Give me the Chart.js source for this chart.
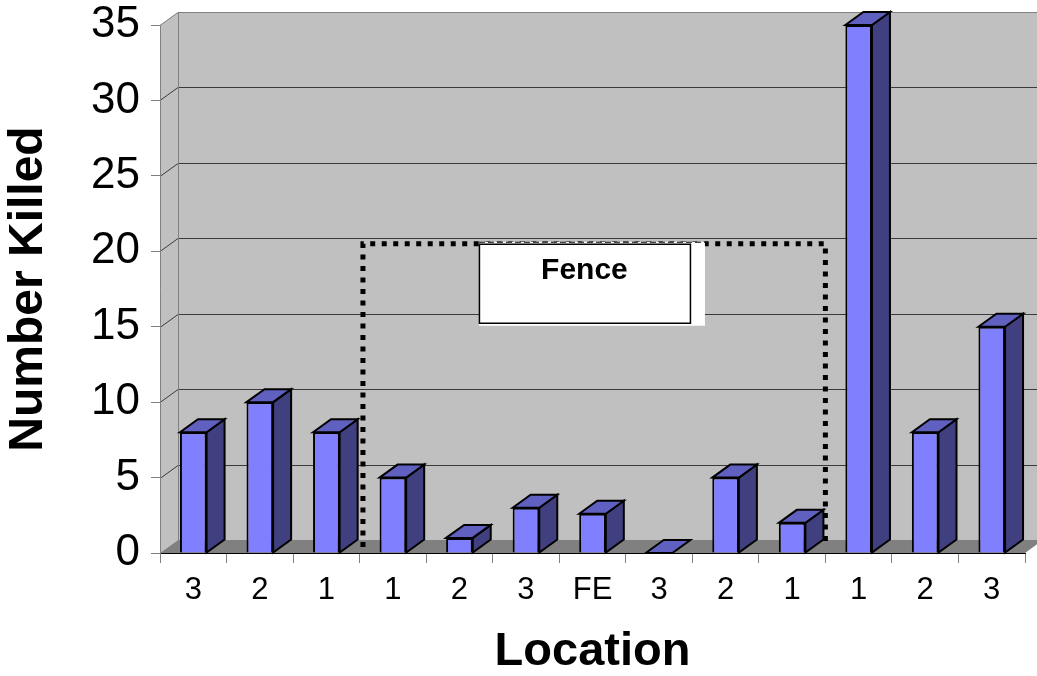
<!DOCTYPE html>
<html>
<head>
<meta charset="utf-8">
<script src="https://cdn.jsdelivr.net/npm/chart.js@4.4.0/dist/chart.umd.min.js"></script>
<style>
  html, body { margin: 0; padding: 0; background: #fff; }
  #wrap { width: 1037px; height: 676px; }
</style>
</head>
<body>
<div id="wrap"><canvas id="killChart"></canvas></div>
<script>
const locations = ['3', '2', '1', '1', '2', '3', 'FE', '3', '2', '1', '1', '2', '3'];
const numberKilled = [8, 10, 8, 5, 1, 3, 2.6, 0, 5, 2, 35, 8, 15];
const yTicks = [0, 5, 10, 15, 20, 25, 30, 35];

// fence area, in category index / value units
const fenceLabel = 'Fence';
const fenceFrom = 2.55, fenceTo = 9.5;
const fenceLow = 0.4, fenceHigh = 20.5;

// 3d depth offset
const DX = 18, DY = -13;

Chart.defaults.font.family = '"Liberation Sans", Arial, sans-serif';

function poly(ctx, pts) {
    ctx.beginPath();
    ctx.moveTo(pts[0][0], pts[0][1]);
    for (let i = 1; i < pts.length; i++) ctx.lineTo(pts[i][0], pts[i][1]);
    ctx.closePath();
}

const box3d = {
    id: 'box3d',
    beforeDraw(chart) {
        const { ctx, chartArea: a, scales: { y } } = chart;
        ctx.save();
        // back wall, left wall, floor
        ctx.fillStyle = '#c0c0c0';
        ctx.fillRect(a.left + DX, a.top + DY, a.right - a.left, a.bottom - a.top);
        poly(ctx, [[a.left, a.top], [a.left + DX, a.top + DY], [a.left + DX, a.bottom + DY], [a.left, a.bottom]]);
        ctx.fill();
        ctx.fillStyle = '#808080';
        poly(ctx, [[a.left, a.bottom], [a.left + DX, a.bottom + DY], [a.right + DX, a.bottom + DY], [a.right, a.bottom]]);
        ctx.fill();

        // gridlines running over both walls
        ctx.lineWidth = 1;
        yTicks.forEach(v => {
            if (v === 0) return;
            const py = Math.round(y.getPixelForValue(v)) + 0.5;
            ctx.strokeStyle = v === 35 ? '#808080' : '#3a3a3a';
            ctx.beginPath();
            ctx.moveTo(a.left, py);
            ctx.lineTo(a.left + DX, py + DY);
            ctx.lineTo(a.right + DX + 20, py + DY);
            ctx.stroke();
        });
        // wall corner
        ctx.strokeStyle = '#808080';
        ctx.beginPath();
        ctx.moveTo(a.left + DX + 0.5, a.top + DY);
        ctx.lineTo(a.left + DX + 0.5, a.bottom + DY);
        ctx.stroke();
        ctx.restore();
    },
    afterDatasetsDraw(chart) {
        const { ctx, scales: { x, y } } = chart;
        const meta = chart.getDatasetMeta(0);
        ctx.save();
        ctx.lineWidth = 2;
        ctx.lineJoin = 'miter';
        ctx.strokeStyle = '#000';
        meta.data.forEach(bar => {
            const p = bar.getProps(['x', 'y', 'base', 'width'], true);
            const l = p.x - p.width / 2, r = p.x + p.width / 2;
            // side face
            if (p.base - p.y > 0.5) {
                poly(ctx, [[r, p.y], [r + DX, p.y + DY], [r + DX, p.base + DY], [r, p.base]]);
                ctx.fillStyle = '#404080';
                ctx.fill();
                ctx.stroke();
            }
            // top face
            poly(ctx, [[l, p.y], [l + DX, p.y + DY], [r + DX, p.y + DY], [r, p.y]]);
            ctx.fillStyle = '#6060c0';
            ctx.fill();
            ctx.stroke();
        });

        // dotted fence outline, open at the floor
        const fl = x.getPixelForValue(fenceFrom);
        const fr = x.getPixelForValue(fenceTo);
        const ft = y.getPixelForValue(fenceHigh);
        const fb = y.getPixelForValue(fenceLow);
        ctx.setLineDash([5, 6.5]);
        ctx.lineWidth = 5;
        ctx.lineCap = 'butt';
        ctx.beginPath();
        ctx.moveTo(fl, fb);
        ctx.lineTo(fl, ft);
        ctx.lineTo(fr, ft);
        ctx.lineTo(fr, fb);
        ctx.stroke();
        ctx.setLineDash([]);

        // label box with white shadow
        const bx = fl + 116, by = ft, bw = 211, bh = 79;
        ctx.fillStyle = '#fff';
        ctx.fillRect(bx, by - 2, bw + 15, bh + 5);
        ctx.strokeStyle = '#000';
        ctx.lineWidth = 1;
        ctx.setLineDash([6, 3]);
        ctx.beginPath();
        ctx.moveTo(bx, by - 1.5);
        ctx.lineTo(bx + bw + 15, by - 1.5);
        ctx.stroke();
        ctx.setLineDash([]);
        ctx.lineWidth = 1.5;
        ctx.strokeRect(bx + 0.5, by + 0.5, bw, bh);
        ctx.fillStyle = '#000';
        ctx.font = 'bold 30px "Liberation Sans", Arial, sans-serif';
        ctx.textAlign = 'center';
        ctx.textBaseline = 'middle';
        ctx.fillText(fenceLabel, bx + bw / 2, by + 27);
        ctx.restore();
    }
};

new Chart(document.getElementById('killChart'), {
    type: 'bar',
    data: {
        labels: locations,
        datasets: [{
            data: numberKilled,
            backgroundColor: '#8080ff',
            borderColor: '#000',
            borderWidth: 2,
            barPercentage: 0.4,
            categoryPercentage: 1
        }]
    },
    options: {
        responsive: true,
        maintainAspectRatio: false,
        animation: false,
        layout: { padding: { top: 25, right: 12, left: 0, bottom: 0 } },
        plugins: {
            legend: { display: false },
            tooltip: { enabled: false }
        },
        scales: {
            x: {
                grid: { offset: true, drawOnChartArea: false, drawTicks: true, tickLength: 10, color: '#808080' },
                border: { color: '#000', width: 1 },
                ticks: { color: '#000', font: { size: 31, lineHeight: 1 }, padding: 12, maxRotation: 0, autoSkip: false },
                title: {
                    display: true, text: 'Location', color: '#000',
                    font: { size: 47, weight: 'bold', lineHeight: 1 },
                    padding: { top: 0, bottom: 0 }
                },
                afterFit: s => {
                    s.height = 123;
                    s.paddingLeft = 0;
                    s.paddingRight = 0;
                }
            },
            y: {
                min: 0,
                max: 35,
                afterBuildTicks: s => { s.ticks = yTicks.map(v => ({ value: v })); },
                grid: { drawOnChartArea: false, drawTicks: true, tickLength: 9, color: '#808080' },
                border: { color: '#808080', width: 1 },
                ticks: { color: '#000', font: { size: 44, lineHeight: 1 }, padding: 11 },
                title: {
                    display: true, text: 'Number Killed', color: '#000',
                    font: { size: 48, weight: 'bold', lineHeight: 1 },
                    padding: { top: 5, bottom: 0 }
                },
                afterFit: s => {
                    s.width = 160;
                    s.paddingTop = 0;
                    s.paddingBottom = 0;
                }
            }
        }
    },
    plugins: [box3d]
});
</script>
</body>
</html>
